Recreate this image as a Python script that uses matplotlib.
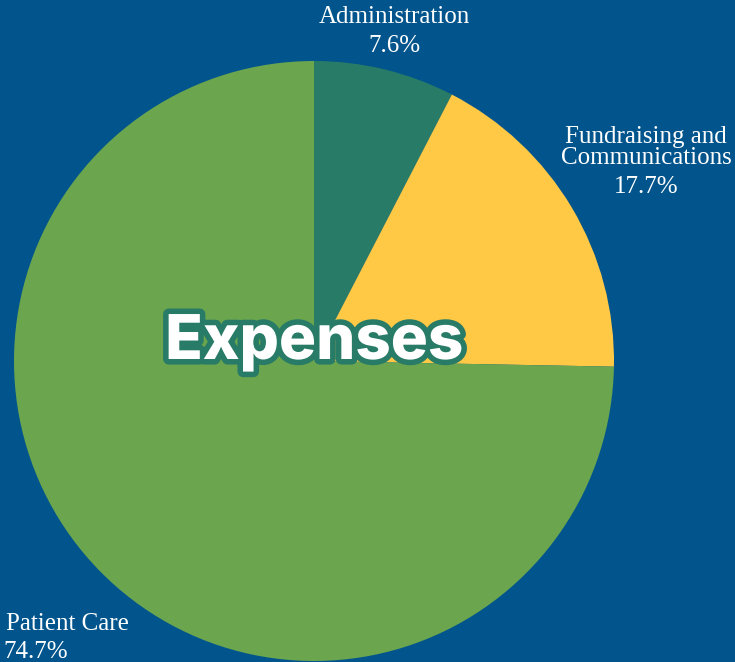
import matplotlib.pyplot as plt
import matplotlib.patheffects as pe

# Expense shares, clockwise from the top
labels = ["Administration", "Fundraising and\nCommunications", "Patient Care"]
shares = [7.6, 17.7, 74.7]
colors = ["#287B66", "#FFC845", "#6BA64E"]
pct_text = ["7.6%", "17.7%", "74.7%"]

BG = "#02558C"

fig = plt.figure(figsize=(7.35, 6.62), dpi=100, facecolor=BG)
ax = fig.add_axes([0, 0, 1, 1])
ax.set_facecolor(BG)
ax.axis("off")

ax.pie(shares, colors=colors, startangle=90, counterclock=False,
       center=(314, 301), radius=300, wedgeprops=dict(linewidth=0))
ax.set_xlim(0, 735)
ax.set_ylim(0, 662)
ax.set_aspect("equal")

serif = dict(family="Liberation Serif", color="white", fontsize=18)

# Administration (top)
ax.text(394, 662 - 23, "Administration", ha="center", va="baseline", **serif)
ax.text(394, 662 - 52, pct_text[0], ha="center", va="baseline", **serif)

# Fundraising and Communications (right)
ax.text(646, 662 - 143, "Fundraising and", ha="center", va="baseline", **serif)
ax.text(646, 662 - 164, "Communications", ha="center", va="baseline", **serif)
ax.text(646, 662 - 193, pct_text[1], ha="center", va="baseline", **serif)

# Patient Care (bottom left)
ax.text(6, 662 - 630, "Patient Care", ha="left", va="baseline", **serif)
ax.text(3, 662 - 658, pct_text[2], ha="left", va="baseline", **serif)

ax.text(314, 662 - 359, "Expenses", ha="center", va="baseline",
        family="Inter", fontweight="heavy", fontsize=44.5, color="white",
        path_effects=[pe.withStroke(linewidth=8, foreground="#287B66")])

fig.savefig("out.png", dpi=100, facecolor=BG)
